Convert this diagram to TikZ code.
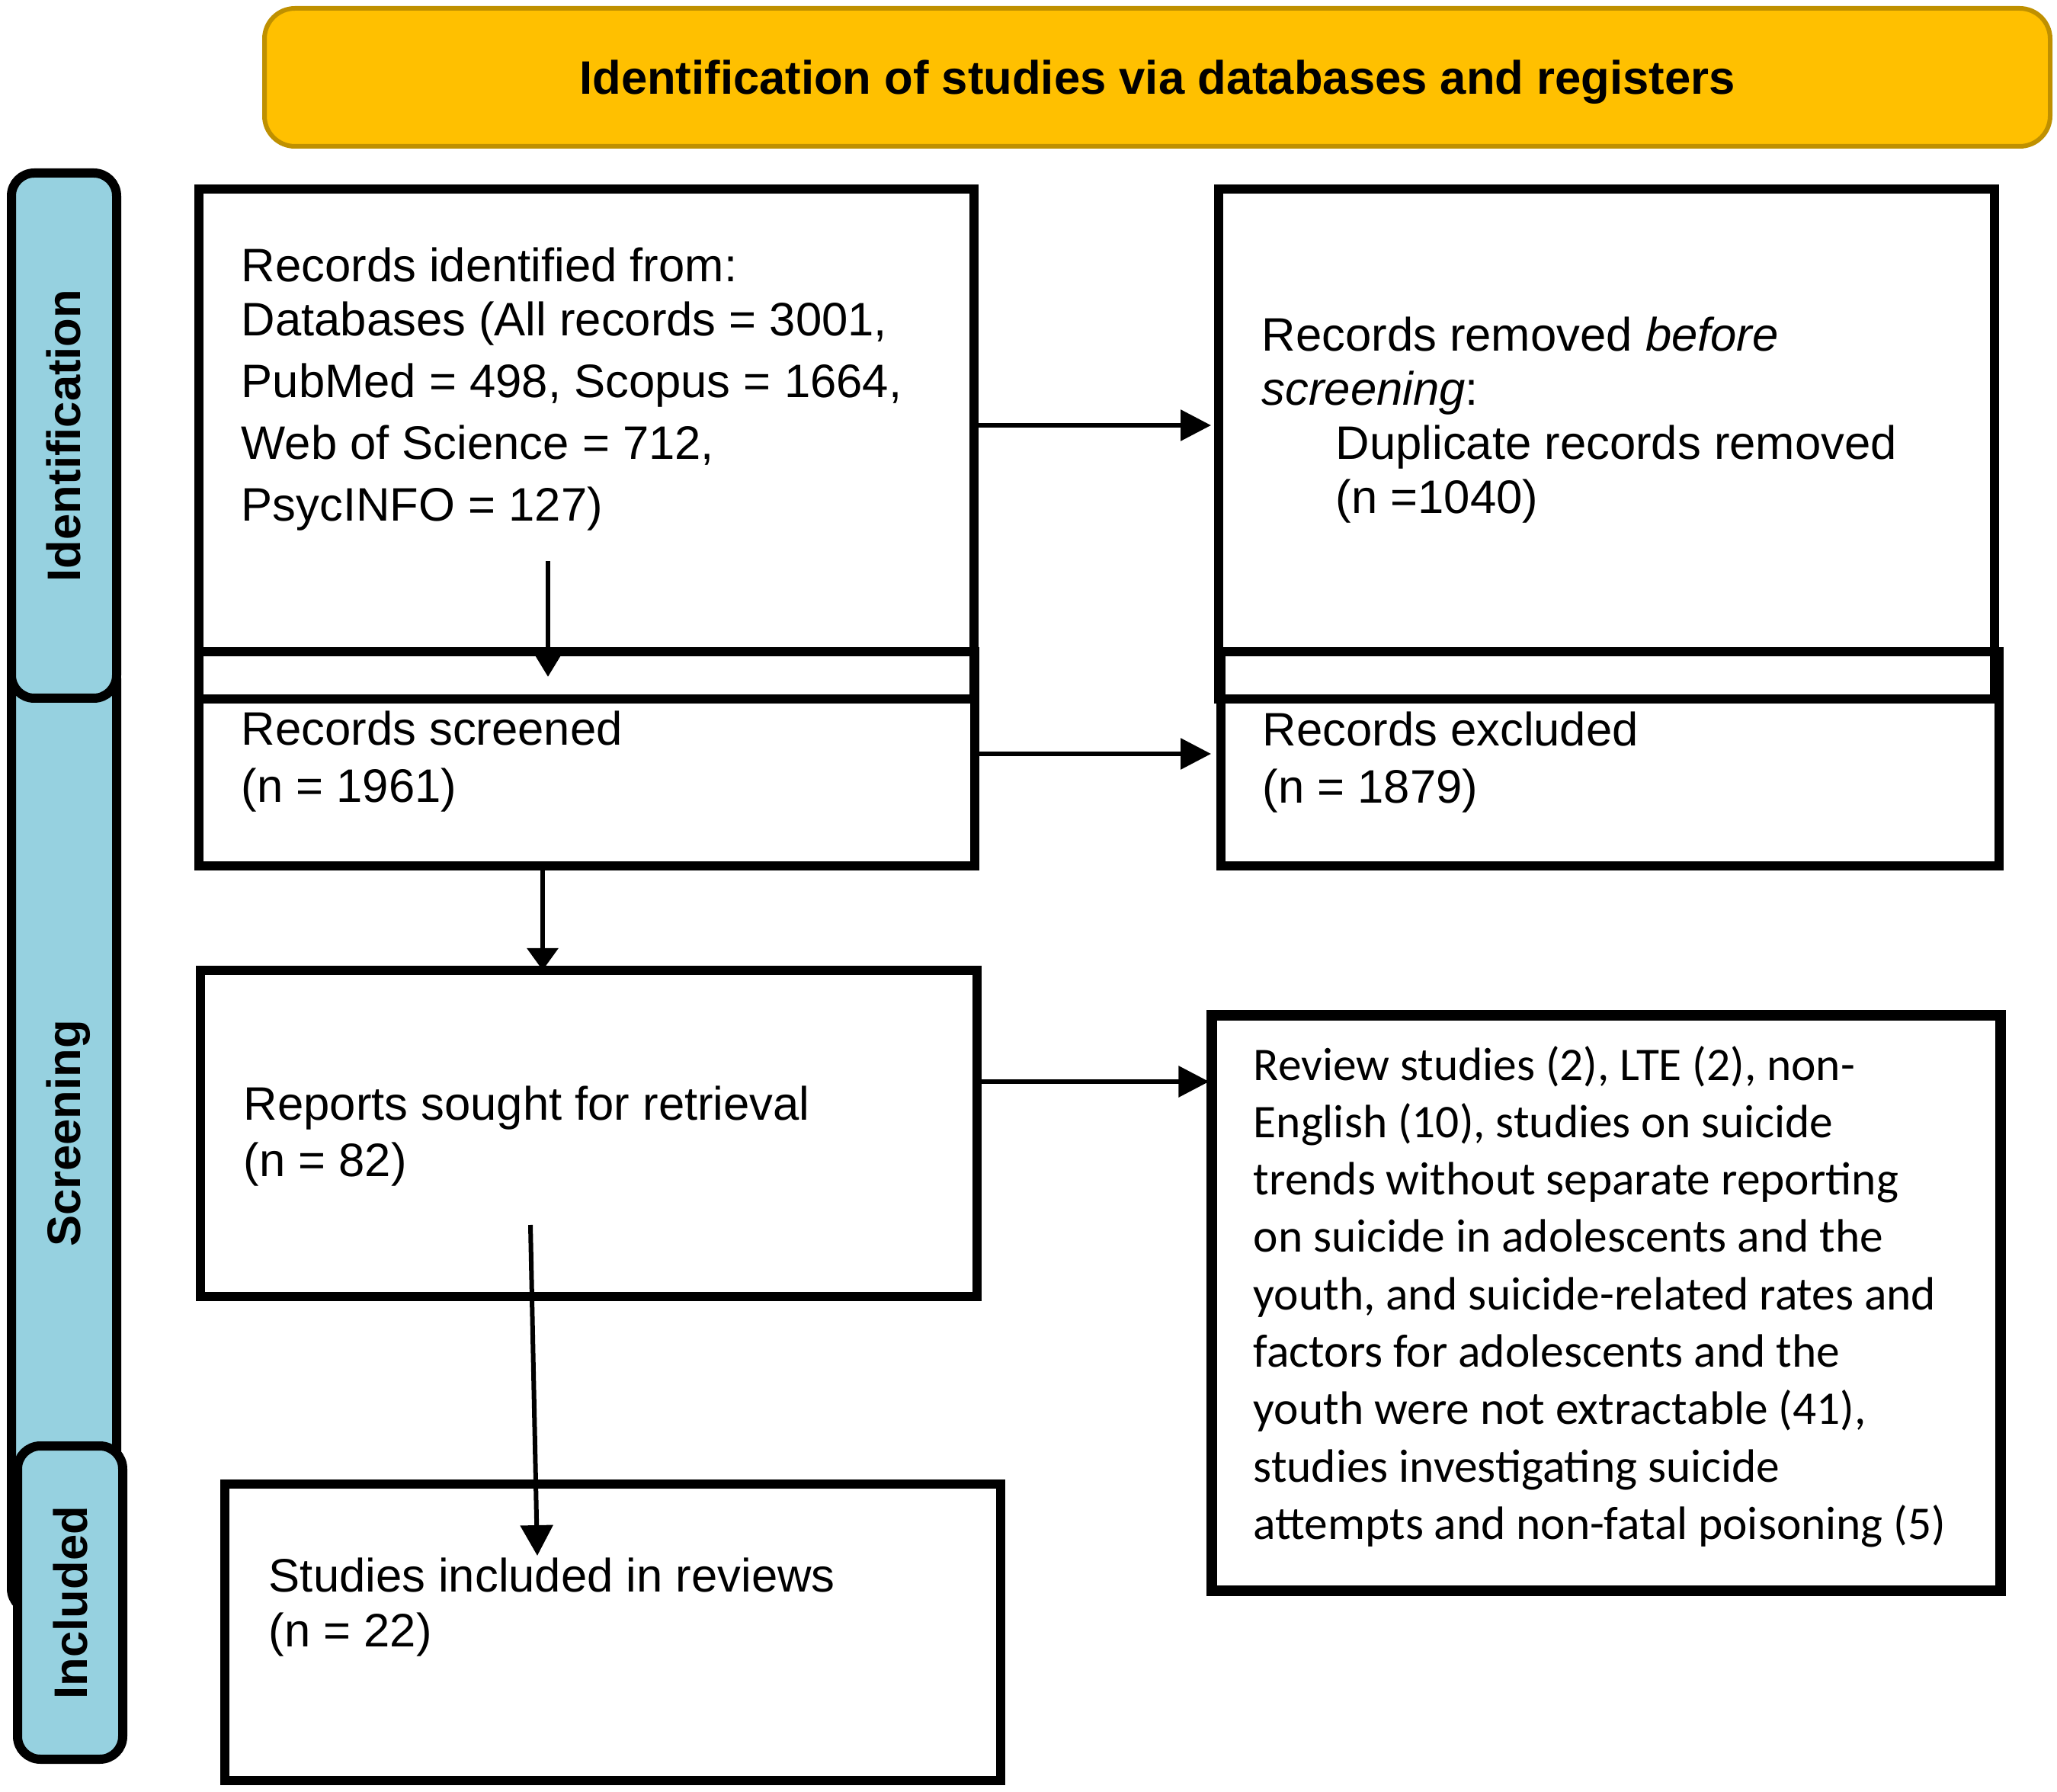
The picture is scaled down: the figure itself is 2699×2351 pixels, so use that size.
\documentclass[tikz,border=0pt]{standalone}
\usepackage{fontspec}
\setmainfont{Liberation Sans}
\newfontfamily\calib{Carlito}
\usetikzlibrary{arrows.meta}
\definecolor{bannerfill}{RGB}{255,192,0}
\definecolor{bannerline}{RGB}{191,144,0}
\definecolor{tabblue}{RGB}{150,209,224}
\tikzset{
  box/.style={draw=black, line width=3pt, inner sep=0pt, outer sep=0pt},
  tab/.style={draw=black, line width=3pt, fill=tabblue, rounded corners=7.5pt, rotate=90, inner sep=0pt, outer sep=0pt, font=\bfseries\fontsize{15.4pt}{18pt}\selectfont, text height=11pt, text depth=0pt},
  banner/.style={draw=bannerline, line width=1.5pt, fill=bannerfill, rounded corners=10pt, inner sep=0pt, font=\bfseries\fontsize{15.4pt}{18pt}\selectfont, text height=11pt, text depth=0pt},
  txt/.style={anchor=base west, inner sep=0pt, font=\fontsize{15.4pt}{18.75pt}\selectfont},
  arr/.style={line width=1.5pt, -{Triangle[length=10pt,width=10pt]}},
}
\begin{document}
\begin{tikzpicture}[x=0.25pt, y=-0.25pt]
\useasboundingbox (0,0) rectangle (2699,2351);

% banner
\node[banner, minimum width=585.75pt, minimum height=45.25pt] (ban) at (1518.5,101.5) {Identification of studies via databases and registers};

% side tabs
\node[tab, minimum width=313.5pt, minimum height=34.5pt] (tscr) at (84,1487) {Screening};
\node[tab, minimum width=172.25pt, minimum height=34.5pt] (tid) at (84,571.5) {Identification};
\node[tab, minimum width=102.75pt, minimum height=34.5pt] (tinc) at (92,2102.5) {Included};

% boxes
\node[box, minimum width=254.25pt, minimum height=167.25pt] (A) at (769.5,582.5) {};
\node[box, minimum width=254.5pt, minimum height=70.25pt] (B) at (770,995.5) {};
\node[box, minimum width=254.75pt, minimum height=107pt] (C) at (772.5,1487) {};
\node[box, minimum width=254.5pt, minimum height=97.25pt] (D) at (804,2141.5) {};
\node[box, minimum width=254.5pt, minimum height=167.25pt] (E) at (2108,582.5) {};
\node[box, minimum width=255.25pt, minimum height=70.25pt] (F) at (2112.5,995.5) {};
\node[box, line width=3.5pt, minimum width=258.75pt, minimum height=188.75pt] (G) at (2107.5,1709.5) {};

% texts
\node[txt, font=\fontsize{15.4pt}{20.25pt}\selectfont] (At) at (316,370) {\vtop{\hbox{Records identified from:}\vskip-2.5pt\hbox{Databases (All records = 3001,}\hbox{PubMed = 498, Scopus = 1664,}\hbox{Web of Science = 712,}\hbox{PsycINFO = 127)}}};
\node[txt, font=\fontsize{15.4pt}{17.75pt}\selectfont] (Et) at (1655,461) {\vtop{\hbox{Records removed \textit{before}}\hbox{\textit{screening}:}\hbox{\hspace{24.25pt}Duplicate records removed}\hbox{\hspace{24.25pt}(n =1040)}}};
\node[txt] (Bt) at (316,978) {\vtop{\hbox{Records screened}\hbox{(n = 1961)}}};
\node[txt] (Ft) at (1656,979) {\vtop{\hbox{Records excluded}\hbox{(n = 1879)}}};
\node[txt, font=\fontsize{15.4pt}{18.5pt}\selectfont] (Ct) at (319,1469) {\vtop{\hbox{Reports sought for retrieval}\hbox{(n = 82)}}};
\node[txt, font=\fontsize{15.4pt}{18pt}\selectfont] (Dt) at (352,2088) {\vtop{\hbox{Studies included in reviews}\hbox{(n = 22)}}};
\node[txt, font=\calib\fontsize{15.35pt}{18.83pt}\selectfont] (Gt) at (1644,1417) {\vtop{\hbox{Review studies (2), LTE (2), non-}\hbox{English (10), studies on suicide}\hbox{trends without separate reporting}\hbox{on suicide in adolescents and the}\hbox{youth, and suicide-related rates and}\hbox{factors for adolescents and the}\hbox{youth were not extractable (41),}\hbox{studies investigating suicide}\hbox{attempts and non-fatal poisoning (5)}}};

% connector helper coordinates
\coordinate (ab1) at (719,736);
\coordinate (ab2) at (719,888);
\coordinate (bc) at (712,0);
\coordinate (cd1) at (696,1607);
\coordinate (cd2) at (705,2041);
\coordinate (ae) at (0,558);
\coordinate (bf) at (0,989);
\coordinate (cg) at (0,1419);

% connectors
\draw[line width=1.5pt, -{Triangle[length=7pt,width=8pt]}] (ab1) -- (ab2);
\draw[line width=1.5pt, -{Triangle[length=7.25pt,width=10pt]}] (B.south -| bc) -- (C.north -| bc);
\draw[line width=1.5pt, -{Triangle[length=10pt,width=10.5pt]}] (cd1) -- (cd2);
\draw[arr, shorten >=2.5pt] (A.east |- ae) -- (E.west |- ae);
\draw[arr, shorten >=3.25pt] (B.east |- bf) -- (F.west |- bf);
\draw[arr] (C.east |- cg) -- ([xshift=-0.9pt]G.west |- cg);
\end{tikzpicture}
\end{document}
